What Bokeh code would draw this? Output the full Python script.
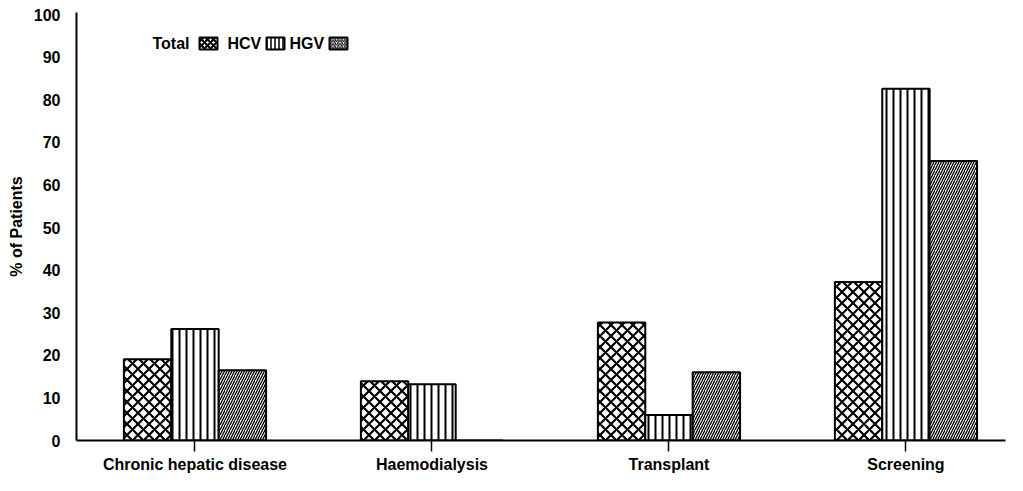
from bokeh.plotting import figure
from bokeh.models import Range1d, FixedTicker, Label, BoxAnnotation, ColumnDataSource
from bokeh.embed import file_html
from bokeh.resources import INLINE

categories = ["Chronic hepatic disease", "Haemodialysis", "Transplant", "Screening"]
total = [19.1, 13.9, 27.7, 37.2]
hcv = [26.2, 13.2, 6.0, 82.6]
hgv = [16.5, 0.0, 16.0, 65.6]
yticks = [0, 10, 20, 30, 40, 50, 60, 70, 80, 90, 100]

centers = [i + 0.5 for i in range(len(categories))]

FONT = "Liberation Sans"

p = figure(width=1007, height=475, output_backend="svg", toolbar_location=None,
           x_range=Range1d(0, 3.92), y_range=Range1d(0, 100.47),
           min_border_left=76, min_border_right=2, min_border_top=12, min_border_bottom=34)
p.outline_line_color = None
p.xgrid.visible = False
p.ygrid.visible = False
p.background_fill_color = "white"

W = 0.2
series = [
    (total, -0.2, "diagonal_cross", 11, 2.2),
    (hcv, 0.0, "vertical_line", 7, 2.0),
    (hgv, 0.2, "right_diagonal_line", 5, 1.3),
]
for vals, off, pat, sc, hw in series:
    src = ColumnDataSource(dict(x=[c + off for c in centers], top=vals))
    p.vbar(x="x", top="top", bottom=0, width=W, source=src,
           fill_color="white", line_color="black", line_width=2,
           hatch_pattern=pat, hatch_scale=sc, hatch_weight=hw, hatch_color="black")

# axes
p.xaxis.ticker = FixedTicker(ticks=centers)
p.xaxis.major_label_overrides = {c: n for c, n in zip(centers, categories)}
p.xaxis.minor_tick_line_color = None
p.xaxis.major_tick_in = 0
p.xaxis.major_tick_out = 11
p.xaxis.major_tick_line_width = 1.5
p.xaxis.axis_line_width = 2
p.xaxis.major_label_standoff = 4
p.xaxis.major_label_text_font = FONT
p.xaxis.major_label_text_font_size = "16px"
p.xaxis.major_label_text_font_style = "bold"
p.xaxis.major_label_text_color = "black"

p.yaxis.ticker = FixedTicker(ticks=yticks)
p.yaxis.minor_tick_line_color = None
p.yaxis.major_tick_in = 0
p.yaxis.major_tick_out = 0
p.yaxis.axis_line_width = 2
p.yaxis.major_label_standoff = 16
p.yaxis.major_label_text_font = FONT
p.yaxis.major_label_text_font_size = "16px"
p.yaxis.major_label_text_font_style = "bold"
p.yaxis.major_label_text_color = "black"
p.yaxis.axis_label = "% of Patients"
p.yaxis.axis_label_text_font = FONT
p.yaxis.axis_label_text_font_size = "16px"
p.yaxis.axis_label_text_font_style = "bold"
p.yaxis.axis_label_text_color = "black"
p.yaxis.axis_label_standoff = 6

# legend: label then swatch (screen units relative to the plot frame)
legend_items = [("Total", "diagonal_cross", 6, 2.0), ("HCV", "vertical_line", 4, 1.5), ("HGV", "right_diagonal_line", 3.5, 1.0)]
lx = [76, 151, 213]
bx = [123, 190, 253]
for (txt, pat, sc, hw), x0, b0 in zip(legend_items, lx, bx):
    p.add_layout(Label(x=x0, y=397, x_units="screen", y_units="screen", text=txt,
                       text_font=FONT, text_font_size="16px", text_font_style="bold",
                       text_color="black", text_baseline="middle", text_align="left"))
    p.add_layout(BoxAnnotation(left=b0, right=b0 + 18, top=403, bottom=391,
                               left_units="screen", right_units="screen",
                               top_units="screen", bottom_units="screen",
                               fill_color="white", fill_alpha=1, line_color="black", line_width=2,
                               line_alpha=1, hatch_pattern=pat, hatch_scale=sc, hatch_weight=hw,
                               hatch_color="black"))

open("out.html", "w").write(file_html(p, INLINE))
